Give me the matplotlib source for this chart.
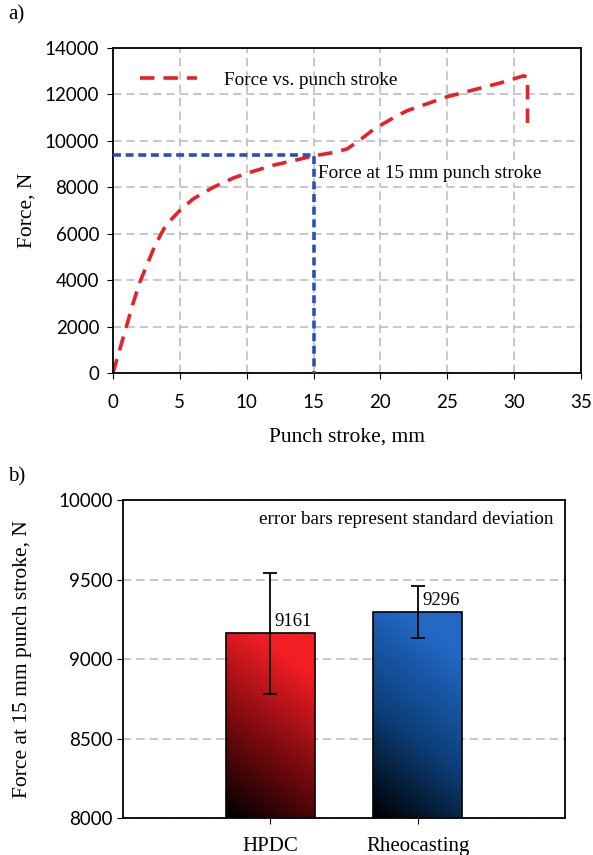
import numpy as np
import matplotlib.pyplot as plt
from matplotlib.colors import LinearSegmentedColormap

plt.rcParams['font.family'] = ['Liberation Serif', 'DejaVu Serif']

# (a) force vs punch stroke
stroke = [0, 0.5, 1, 1.5, 2, 3, 3.6, 4, 5, 6, 7.5, 9, 10, 12, 13.5, 15, 16.5, 17.5,
          18.5, 19.5, 21, 22, 23.5, 25, 27, 29, 30.7, 31, 31]
force = [0, 1000, 2000, 3000, 3900, 5300, 6000, 6400, 7000, 7500, 8000, 8400, 8600,
         8950, 9150, 9350, 9500, 9650, 10050, 10500, 11000, 11300, 11600, 11900,
         12200, 12500, 12800, 12750, 10650]
x15 = 15
f15 = 9380

# (b) bar chart
groups = ['HPDC', 'Rheocasting']
means = [9161, 9296]
stds = [383, 163]

fig = plt.figure(figsize=(5.93, 8.55), dpi=100)
W, H = 593, 855

def axbox(l, t, r, b):
    return [l / W, 1 - b / H, (r - l) / W, (b - t) / H]

tickfont = dict(family='Lato', size=13.5)

ax1 = fig.add_axes(axbox(113, 48, 581, 373))
ax1.plot(stroke, force, color='#e8202a', lw=2.6, ls=(0, (4, 2.5)), label='Force vs. punch stroke')
ax1.plot([0, x15, x15], [f15, f15, 0], color='#2a4fb8', lw=2.6, ls=(0, (2.2, 1.3)), zorder=3)
ax1.set_xlim(0, 35)
ax1.set_ylim(0, 14000)
ax1.set_xticks(range(0, 36, 5))
ax1.set_yticks(range(0, 14001, 2000))
for lab in ax1.get_xticklabels() + ax1.get_yticklabels():
    lab.set(**tickfont)
ax1.grid(True, color='#bdbdbd', ls=(0, (5, 3)), lw=1.2)
ax1.set_axisbelow(True)
ax1.tick_params(direction='out', length=4)
ax1.tick_params(axis='x', pad=11)
ax1.tick_params(axis='y', pad=6)
ax1.set_xlabel('Punch stroke, mm', fontsize=15.5, labelpad=12)
ax1.set_ylabel('Force, N', fontsize=15.5, labelpad=6)
ax1.text(15.3, 8600, 'Force at 15 mm punch stroke', fontsize=13.8, va='center',
         bbox=dict(facecolor='white', edgecolor='none', pad=1))
leg = ax1.legend(loc='upper left', fontsize=13.8, frameon=False, handlelength=3.0,
                 handletextpad=1.4, bbox_to_anchor=(0.02, 0.98))
for s in ax1.spines.values():
    s.set_linewidth(1.3)

ax2 = fig.add_axes(axbox(123, 500, 565, 818))
pos = [1, 2]
bars = ax2.bar(pos, means, width=0.6, bottom=0, color='none', edgecolor='black', lw=1.2, zorder=2)

cmaps = [LinearSegmentedColormap.from_list('r', ['#000000', '#7a0a0e', '#f21e24']),
         LinearSegmentedColormap.from_list('b', ['#000000', '#0c3f7a', '#2268c4'])]
gx, gy = np.meshgrid(np.linspace(0, 1, 60), np.linspace(0, 1, 120))
for b, cm in zip(bars, cmaps):
    x0, y0 = b.get_x(), 8000
    x1, y1 = x0 + b.get_width(), b.get_height()
    grad = np.clip(0.3 * gx + 0.9 * gy, 0, 1)
    im = ax2.imshow(grad, extent=[x0, x1, y0, y1], origin='lower', cmap=cm,
                    aspect='auto', zorder=1)
    im.set_clip_path(b)
ax2.set_xlim(0, 3)
ax2.set_ylim(8000, 10000)

ax2.errorbar(pos, means, yerr=stds, fmt='none', ecolor='black', elinewidth=1.3,
             capsize=5, capthick=1.3, zorder=4)
for p, m in zip(pos, means):
    ax2.text(p + 0.03, m + 20, str(m), fontsize=13.5, ha='left', va='bottom', zorder=5)

ax2.set_xticks(pos)
ax2.set_xticklabels(groups, fontsize=15)
ax2.set_yticks(range(8000, 10001, 500))
for lab in ax2.get_yticklabels():
    lab.set(**tickfont)
ax2.yaxis.grid(True, color='#bdbdbd', ls=(0, (5, 3)), lw=1.2)
ax2.set_axisbelow(True)
ax2.tick_params(direction='out', length=4)
ax2.tick_params(axis='x', pad=10)
ax2.set_ylabel('Force at 15 mm punch stroke, N', fontsize=15.5, labelpad=19)
ax2.text(0.975, 0.94, 'error bars represent standard deviation', transform=ax2.transAxes,
         fontsize=13.8, ha='right', va='center')
for s in ax2.spines.values():
    s.set_linewidth(1.3)

fig.text(8 / W, 1 - 15 / H, 'a)', fontsize=15, va='center')
fig.text(8 / W, 1 - 477 / H, 'b)', fontsize=15, va='center')

fig.savefig('out.png', dpi=100, facecolor='white')
